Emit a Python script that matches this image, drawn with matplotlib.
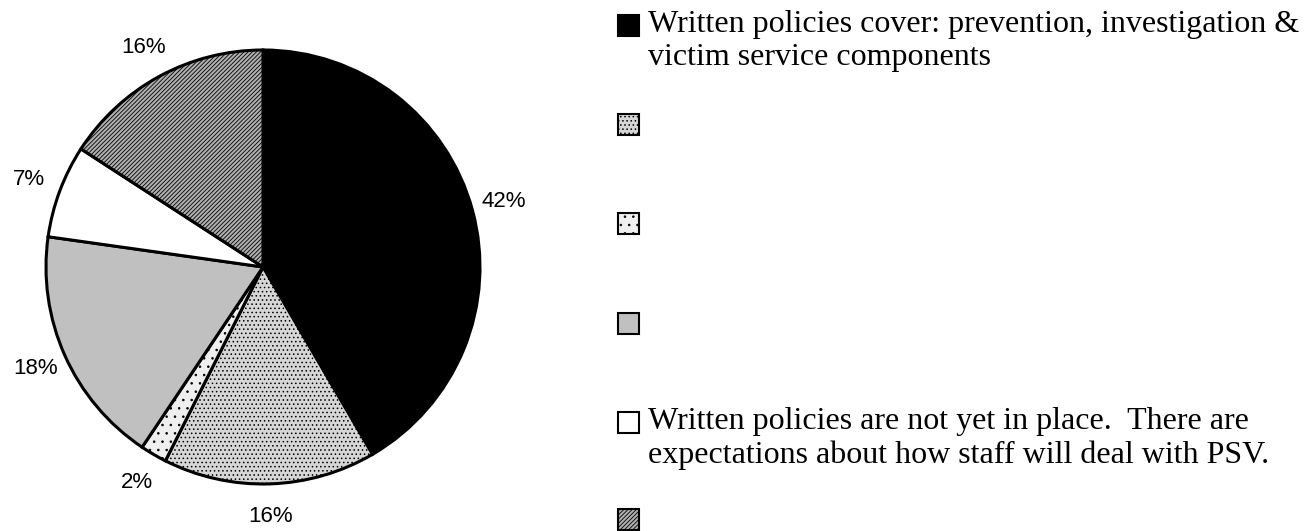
import matplotlib
matplotlib.use('Agg')
import matplotlib.pyplot as plt
from matplotlib.patches import Rectangle

# slice values (percent), clockwise from 12 o'clock
values = [42, 16, 2, 18, 7, 16]
pct_labels = ['42%', '16%', '2%', '18%', '7%', '16%']
legend_labels = [
    'Written policies cover: prevention, investigation &\nvictim service components',
    '',
    '',
    '',
    'Written policies are not yet in place.  There are\nexpectations about how staff will deal with PSV.',
    '',
]

# grey-scale fills and hatches standing in for the old office patterns
face_colors = ['black', '#d6d6d6', '#efefef', '#c0c0c0', 'white', '#b0b0b0']
hatches = ['', '....', '..', '', '', '////////']

plt.rcParams['hatch.linewidth'] = 0.6

fig = plt.figure(figsize=(13.12, 5.31), dpi=100)
W, H = 1312, 531

# pie axes: centre (263, 267), radius 217 px
cx, cy, r = 263, 267, 217
ax = fig.add_axes([(cx - r) / W, (H - cy - r) / H, 2 * r / W, 2 * r / H])
wedges, texts = ax.pie(values, labels=pct_labels, startangle=90, counterclock=False,
                       colors=face_colors, labeldistance=1.15,
                       wedgeprops=dict(edgecolor='black', linewidth=2.2, clip_on=False),
                       textprops=dict(ha='center', va='center', fontsize=16,
                                      family='Liberation Sans'))
for w, h in zip(wedges, hatches):
    w.set_hatch(h)
ax.set_xlim(-1, 1)
ax.set_ylim(-1, 1)
ax.set_aspect('equal')
ax.axis('off')

# hand-made legend: marker aligned with the first text line
marker_x = 618
text_x = 648
size = 21
row_y = [25, 124, 223, 323, 422, 519]
for i in range(len(values)):
    y = row_y[i]
    rect = Rectangle((marker_x / W, (H - y - size / 2) / H), size / W, size / H,
                     transform=fig.transFigure, facecolor=face_colors[i],
                     edgecolor='black', linewidth=1.5, hatch=hatches[i])
    fig.add_artist(rect)
    if legend_labels[i]:
        fig.text(text_x / W, (H - y + 15) / H, legend_labels[i], family='Liberation Serif',
                 fontsize=23, ha='left', va='top', linespacing=1.2,
                 transform=fig.transFigure)

fig.savefig('out.png', dpi=100)
